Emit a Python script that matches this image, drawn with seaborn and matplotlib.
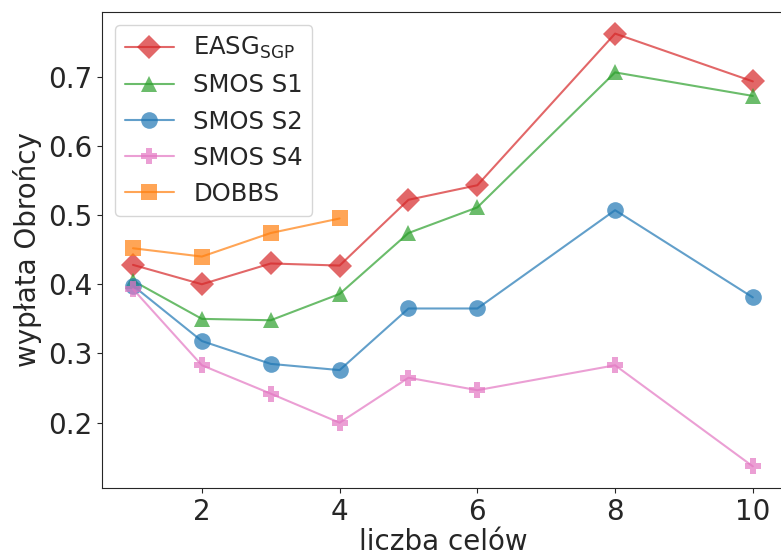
import pandas as pd
import matplotlib
matplotlib.use('Agg')
import matplotlib.pyplot as plt
import seaborn as sns

sns.set_style('ticks')
plt.rcParams['font.family'] = ['DejaVu Sans']
plt.rcParams['mathtext.fontset'] = 'dejavusans'

x_vals = [1, 2, 3, 4, 5, 6, 8, 10]
easg = [0.428, 0.400, 0.430, 0.427, 0.522, 0.543, 0.762, 0.693]
smos_s1 = [0.405, 0.350, 0.348, 0.386, 0.474, 0.511, 0.706, 0.672]
smos_s2 = [0.398, 0.318, 0.285, 0.276, 0.365, 0.365, 0.507, 0.381]
smos_s4 = [0.393, 0.283, 0.242, 0.200, 0.265, 0.247, 0.283, 0.137]
dobbs_x = [1, 2, 3, 4]
dobbs = [0.452, 0.440, 0.474, 0.495]

series = [
    (r'EASG$_{\rm SGP}$', x_vals, easg, 'tab:red', 'D'),
    ('SMOS S1', x_vals, smos_s1, 'tab:green', '^'),
    ('SMOS S2', x_vals, smos_s2, 'tab:blue', 'o'),
    ('SMOS S4', x_vals, smos_s4, 'tab:pink', 'P'),
    ('DOBBS', dobbs_x, dobbs, 'tab:orange', 's'),
]

fig = plt.figure(figsize=(7.81, 5.57), dpi=100)
ax = fig.add_axes([0.1306, 0.1239, 0.873, 0.8546])

for name, xs, ys, col, mk in series:
    df = pd.DataFrame({'x': xs, 'y': ys})
    sns.lineplot(data=df, x='x', y='y', ax=ax, color=col, marker=mk,
                 markersize=12, linewidth=1.5, alpha=0.7, label=name,
                 markeredgewidth=0)

ax.set_xticks([2, 4, 6, 8, 10])
ax.set_yticks([0.2, 0.3, 0.4, 0.5, 0.6, 0.7])
ax.tick_params(labelsize=20)
ax.set_xlabel('liczba celów', fontsize=20, labelpad=2)
ax.set_ylabel('wypłata Obrońcy', fontsize=20)
ax.legend(loc='upper left', fontsize=17.5, handlelength=2.0, labelspacing=0.5,
          borderaxespad=0.55)

fig.savefig('out.png', dpi=100)
